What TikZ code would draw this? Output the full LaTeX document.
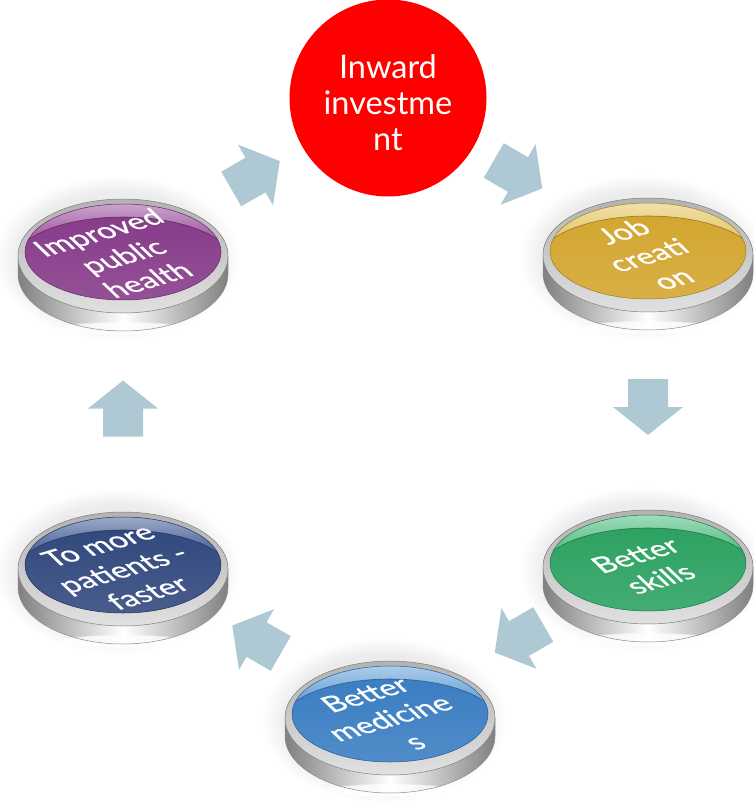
\documentclass[tikz,border=0pt]{standalone}
\usepackage{fontspec}
\setmainfont{Lato}
\newfontfamily\btnfont{Lato}[FakeBold=0.6]
\usetikzlibrary{calc,shapes.geometric,fadings}

\definecolor{arrowblue}{HTML}{AFC9D4}
\definecolor{hubred}{HTML}{FF0000}
\definecolor{goldL}{HTML}{E8CB72}\definecolor{goldB}{HTML}{D3A630}
\definecolor{plumL}{HTML}{A866AA}\definecolor{plumB}{HTML}{873C8A}
\definecolor{navyL}{HTML}{5A70A2}\definecolor{navyB}{HTML}{32497E}
\definecolor{leafL}{HTML}{62C48D}\definecolor{leafB}{HTML}{2DA262}
\definecolor{skyL}{HTML}{74AADB}\definecolor{skyB}{HTML}{3B7EC2}

\tikzset{
  cyclearrow/.pic={\fill[arrowblue] (-28,-20) -- (0,-20) -- (0,-35) -- (28,0) -- (0,35) -- (0,20) -- (-28,20) -- cycle;},
  facenode/.style={ellipse, inner sep=0pt, minimum width=196pt, minimum height=94pt},
  btntext/.style={text=white, align=center, font=\btnfont\fontsize{42}{51}\selectfont, transform shape, xscale=0.8},
  hubtext/.style={text=white, align=center, font=\fontsize{32.5}{36}\selectfont}
}

% glossy push button: #1 name, #2 position, #3 highlight colour, #4 base colour, #5 label
\newcommand\glossbutton[5]{%
  \node[facenode] (#1) at (#2) {};
  \begin{scope}[shift={(#1.center)}]
    % soft halo
    \fill[black!40, opacity=0.18, path fading=circle with fuzzy edge 20 percent]
      (-6,-6) ellipse [x radius=122, y radius=82];
    % silver side wall
    \shade[left color=black!50, right color=black!50, middle color=white]
      (-105,-4) -- (-105,-22) arc[start angle=180, end angle=360, x radius=105, y radius=57]
      -- (105,-4) arc[start angle=0, end angle=180, x radius=105, y radius=57] -- cycle;
    \fill[white, opacity=0.8, path fading=circle with fuzzy edge 20 percent]
      (0,-76) ellipse [x radius=70, y radius=7];
    \draw[black!45, line width=0.5pt]
      (-105,-4) -- (-105,-22) arc[start angle=180, end angle=360, x radius=105, y radius=57]
      -- (105,-4);
    % bezel
    \shade[top color=black!30, bottom color=black!12, draw=black!50, line width=0.5pt]
      (0,-4) ellipse [x radius=105, y radius=57];
    % coloured face with gloss line
    \fill[#3] (0,0) ellipse [x radius=98, y radius=48];
    \begin{scope}
      \clip (0,0) ellipse [x radius=98, y radius=48];
      \shade[top color=#3!60!white, bottom color=#3] (-100,48) rectangle (100,20);
      \shade[top color=#4, bottom color=#4!88!white] (0,-11) ellipse [x radius=110, y radius=46];
      \draw[#4!45!black, line width=0.6pt, opacity=0.6] (0,-11) ellipse [x radius=110, y radius=46];
    \end{scope}
    \draw[#4!75!black, line width=0.5pt] (0,0) ellipse [x radius=98, y radius=48];
  \end{scope}
  \begin{scope}[shift={($(#1.center)+(0,-4)$)}, yscale=0.53, rotate=29]
    \node[btntext] (#1-label) at (0,0) {#5};
  \end{scope}
}

\begin{document}
\begin{tikzpicture}[x=1pt, y=1pt]
  \useasboundingbox (0,0) rectangle (753,-805);
  \fill[white] (0,0) rectangle (753,-805);

  % central hub
  \node[circle, fill=hubred, minimum size=197pt, inner sep=0pt] (hub) at (388,-98) {};
  \node[hubtext] (hub-label) at ($(hub.center)+(0,-5)$) {Inward\\investme\\nt};

  % the five buttons around the cycle
  \glossbutton{job}{648,-251}{goldL}{goldB}{Job\\creati\\on}
  \glossbutton{skills}{648,-563}{leafL}{leafB}{Better\\skills}
  \glossbutton{medicines}{390,-714}{skyL}{skyB}{Better\\medicine\\s}
  \glossbutton{patients}{123,-565}{navyL}{navyB}{To more\\patients -\\faster}
  \glossbutton{improved}{123,-252}{plumL}{plumB}{Improved\\public\\health}

  % block arrows half way between neighbours
  \pic[rotate=30]   at ($(improved)!0.5!(hub)$)      {cyclearrow};
  \pic[rotate=-30]  at ($(hub)!0.5!(job)$)           {cyclearrow};
  \pic[rotate=-90]  at ($(job)!0.5!(skills)$)        {cyclearrow};
  \pic[rotate=-150] at ($(skills)!0.5!(medicines)$)  {cyclearrow};
  \pic[rotate=150]  at ($(medicines)!0.5!(patients)$) {cyclearrow};
  \pic[rotate=90]   at ($(patients)!0.5!(improved)$) {cyclearrow};
\end{tikzpicture}
\end{document}
